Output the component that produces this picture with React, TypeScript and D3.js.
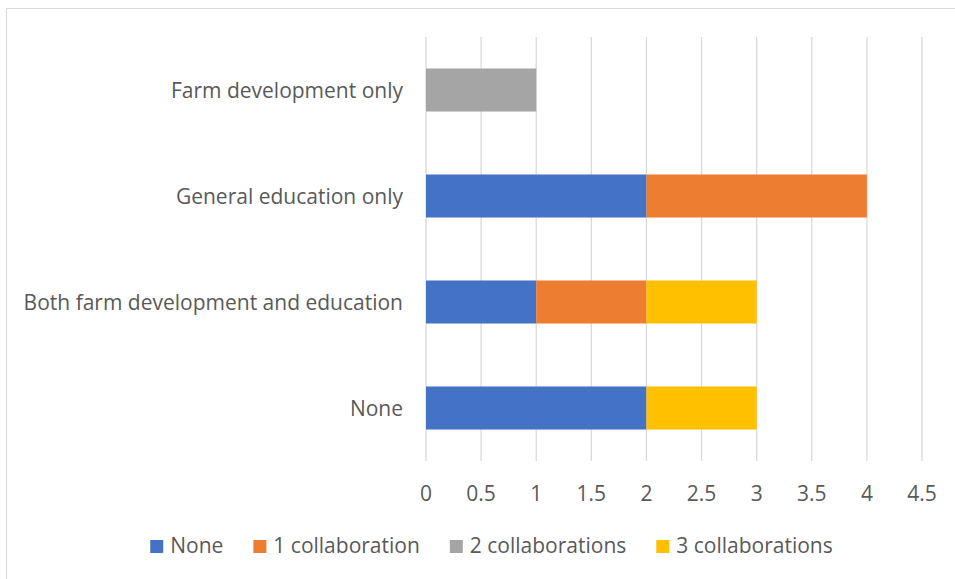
import React, { useEffect, useRef } from "react";
import * as d3 from "d3";

const categories = ["Farm development only", "General education only", "Both farm development and education", "None"];
const seriesNames = ["None", "1 collaboration", "2 collaborations", "3 collaborations"];
const seriesColors = ["#4472C4", "#ED7D31", "#A5A5A5", "#FFC000"];
const noneValues = [0, 2, 1, 2];
const oneValues = [0, 2, 1, 0];
const twoValues = [1, 0, 0, 0];
const threeValues = [0, 0, 1, 1];
const xTicks = [0, 0.5, 1, 1.5, 2, 2.5, 3, 3.5, 4, 4.5];

const W = 955;
const H = 579;
const FONT = "'Open Sans', Lato, sans-serif";
const FS = 21;
const TEXT = "#595959";

export default function App() {
  const ref = useRef<SVGSVGElement>(null);
  useEffect(() => {
    const svg = d3.select(ref.current);
    svg.selectAll("*").remove();

    svg.append("rect").attr("x", 6.5).attr("y", 8.5).attr("width", W).attr("height", H)
      .attr("fill", "#fff").attr("stroke", "#d9d9d9").attr("stroke-width", 1);

    const x = d3.scaleLinear().domain([0, 4.5]).range([426, 922]);
    const y = d3.scaleBand<string>().domain(categories).range([37, 461]).paddingInner(0.594).paddingOuter(0.297);

    const g = svg.append("g");
    g.selectAll("line.grid").data(xTicks).join("line")
      .attr("x1", d => x(d)).attr("x2", d => x(d)).attr("y1", 37).attr("y2", 461)
      .attr("stroke", "#d9d9d9").attr("stroke-width", 1.3);

    const rows = categories.map((c, i) => ({ cat: c, s0: noneValues[i], s1: oneValues[i], s2: twoValues[i], s3: threeValues[i] }));
    const stack = d3.stack<any>().keys(["s0", "s1", "s2", "s3"]);
    const layers = stack(rows);
    layers.forEach((layer, li) => {
      g.selectAll(`rect.s${li}`).data(layer.filter(d => d[1] - d[0] > 0)).join("rect")
        .attr("x", d => x(d[0])).attr("width", d => x(d[1]) - x(d[0]))
        .attr("y", d => y(d.data.cat)!).attr("height", y.bandwidth())
        .attr("fill", seriesColors[li]);
    });

    g.selectAll("text.tick").data(xTicks).join("text")
      .attr("x", d => x(d)).attr("y", 501).attr("text-anchor", "middle")
      .attr("font-family", FONT).attr("font-size", FS).attr("fill", TEXT)
      .text(d => String(d));

    g.selectAll("text.cat").data(categories).join("text")
      .attr("x", 403).attr("y", d => y(d)! + y.bandwidth() / 2 + 7.5).attr("text-anchor", "end")
      .attr("font-family", FONT).attr("font-size", FS).attr("fill", TEXT)
      .text(d => d);

    const GAP = 30;
    const leg = svg.append("g");
    const items = leg.selectAll("g").data(seriesNames).join("g");
    items.append("rect").attr("width", 13).attr("height", 13).attr("y", 540).attr("fill", (d, i) => seriesColors[i]);
    items.append("text").attr("y", 553).attr("font-family", FONT).attr("font-size", FS).attr("fill", TEXT).text(d => d);
    let cx = 0;
    const pos: number[] = [];
    items.each(function () {
      pos.push(cx);
      const tw = (d3.select(this).select("text").node() as SVGTextElement).getComputedTextLength();
      cx += 13 + 7 + tw + GAP;
    });
    const total = cx - GAP;
    const start = 491.5 - total / 2;
    items.each(function (d, i) {
      const sel = d3.select(this);
      sel.select("rect").attr("x", start + pos[i]);
      sel.select("text").attr("x", start + pos[i] + 20);
    });
  }, []);
  return <svg ref={ref} width={W} height={H} style={{ position: "absolute", left: 0, top: 0 }} />;
}
